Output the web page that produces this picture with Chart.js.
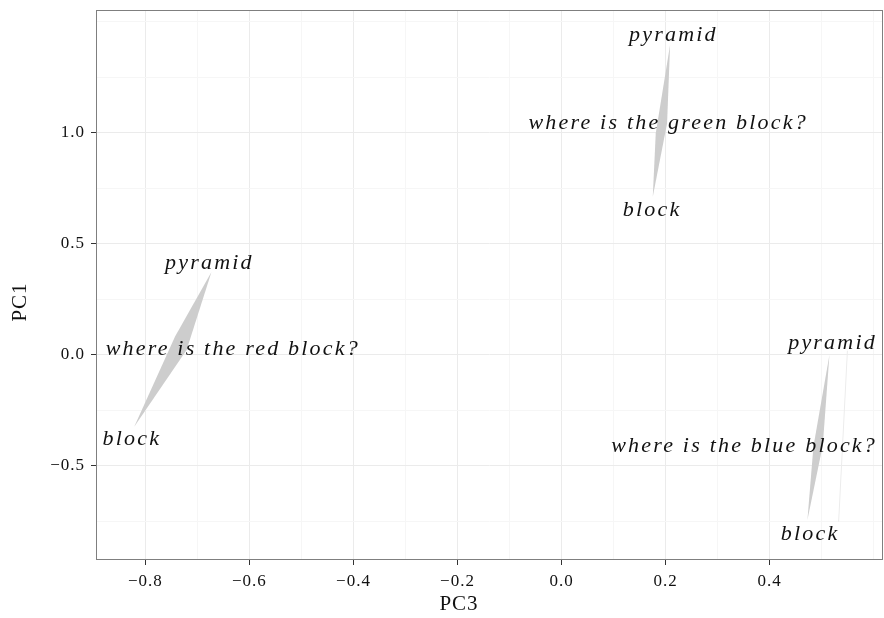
<!DOCTYPE html>
<html>
<head>
<meta charset="utf-8">
<script src="https://cdn.jsdelivr.net/npm/chart.js@4.4.1/dist/chart.umd.min.js"></script>
<style>
  html, body { margin: 0; padding: 0; background: #fff; }
  #wrap { width: 884px; height: 618px; position: relative; }
</style>
</head>
<body>
<div id="wrap"><canvas id="chart-pca"></canvas></div>
<script>
// one entry per colour: red, green, blue
const sentences = ['where is the red block?', 'where is the green block?', 'where is the blue block?'];
const sentenceX = [-0.632, 0.205, 0.351];
const sentenceY = [0.025, 1.040, -0.412];
const pyramidX = [-0.677, 0.215, 0.521];
const pyramidY = [0.411, 1.437, 0.053];
const blockX = [-0.826, 0.174, 0.478];
const blockY = [-0.379, 0.649, -0.808];

// grey slivers joining block and pyramid
const redShapeX = [-0.8215, -0.743, -0.673, -0.7208];
const redShapeY = [-0.325, 0.081, 0.372, 0.021];
const greenShapeX = [0.1754, 0.1811, 0.2087, 0.2029];
const greenShapeY = [0.711, 0.997, 1.395, 1.042];
const blueShapeX = [0.4727, 0.4842, 0.5150, 0.5023];
const blueShapeY = [-0.745, -0.415, -0.002, -0.407];
const blueTraceX = [0.5496, 0.5327];
const blueTraceY = [0.0176, -0.7527];

// axis breaks
const xMajor = [-0.8, -0.6, -0.4, -0.2, 0.0, 0.2, 0.4];
const xMinor = [-0.7, -0.5, -0.3, -0.1, 0.1, 0.3, 0.5, 0.6];
const yMajor = [-0.5, 0.0, 0.5, 1.0];
const yMinor = [-0.75, -0.25, 0.25, 0.75, 1.25, 1.5];

function toPoints(xs, ys, close) {
  const pts = xs.map((v, i) => ({ x: v, y: ys[i] }));
  if (close) pts.push(pts[0]);
  return pts;
}

function buildTicks(major, minor) {
  const list = major.map(v => ({ value: v, minor: false }))
    .concat(minor.map(v => ({ value: v, minor: true })));
  return list.sort((a, b) => a.value - b.value);
}

function fmt(v) {
  return (v < 0 ? '\u2212' : '') + Math.abs(v).toFixed(1);
}

function axisOptions(min, max, major, minor, isX) {
  return {
    type: 'linear',
    min: min,
    max: max,
    afterBuildTicks: (scale) => { scale.ticks = buildTicks(major, minor); },
    afterFit: (scale) => {
      // fixed panel size, no extra room for edge labels
      if (isX) {
        scale.height = 58;
        scale.paddingLeft = 0;
        scale.paddingRight = 0;
      } else {
        scale.width = 96;
        scale.paddingTop = 0;
        scale.paddingBottom = 0;
      }
    },
    border: { display: false },
    grid: {
      color: (c) => (c.tick && c.tick.minor) ? '#f6f6f6' : '#ebebeb',
      tickColor: (c) => (c.tick && c.tick.minor) ? 'rgba(0,0,0,0)' : '#333333',
      tickLength: 5,
      lineWidth: 1
    },
    ticks: {
      autoSkip: false,
      maxRotation: 0,
      padding: isX ? 6 : 6,
      color: '#111111',
      font: { family: 'Liberation Serif', size: 17 },
      callback: (v, i, ticks) => ticks[i].minor ? '' : fmt(v)
    }
  };
}

const shapeStyle = {
  showLine: true,
  fill: 'shape',
  backgroundColor: '#cdcdcd',
  borderColor: 'rgba(0,0,0,0)',
  borderWidth: 0,
  pointRadius: 0,
  tension: 0
};

// words, sentences, panel border and axis titles
const textLayer = {
  id: 'textLayer',
  beforeDraw(chart) {
    chart.ctx.letterSpacing = '1px';
  },
  afterDatasetsDraw(chart) {
    const { ctx, chartArea } = chart;
    const x = chart.scales.x;
    const y = chart.scales.y;
    ctx.save();
    ctx.font = 'italic 22px "Liberation Serif"';
    ctx.letterSpacing = '2.2px';
    ctx.fillStyle = '#111111';
    ctx.textAlign = 'center';
    ctx.textBaseline = 'middle';
    for (let i = 0; i < sentences.length; i++) {
      ctx.fillText(sentences[i], x.getPixelForValue(sentenceX[i]), y.getPixelForValue(sentenceY[i]));
      ctx.fillText('pyramid', x.getPixelForValue(pyramidX[i]), y.getPixelForValue(pyramidY[i]));
      ctx.fillText('block', x.getPixelForValue(blockX[i]), y.getPixelForValue(blockY[i]));
    }
    ctx.restore();

    ctx.save();
    ctx.strokeStyle = '#7f7f7f';
    ctx.lineWidth = 1;
    ctx.strokeRect(Math.round(chartArea.left) + 0.5, Math.round(chartArea.top) + 0.5,
      Math.round(chartArea.right - chartArea.left) - 1, Math.round(chartArea.bottom - chartArea.top) - 1);

    ctx.font = '21px "Liberation Serif"';
    ctx.letterSpacing = '1px';
    ctx.fillStyle = '#111111';
    ctx.textAlign = 'center';
    ctx.textBaseline = 'middle';
    ctx.fillText('PC3', 459, 604);
    ctx.translate(20, 302);
    ctx.rotate(-Math.PI / 2);
    ctx.fillText('PC1', 0, 0);
    ctx.restore();
  }
};

var ctx = document.getElementById('chart-pca').getContext('2d');

new Chart(ctx, {
  type: 'scatter',
  data: {
    datasets: [
      Object.assign({ label: 'red', data: toPoints(redShapeX, redShapeY, true) }, shapeStyle),
      Object.assign({ label: 'green', data: toPoints(greenShapeX, greenShapeY, true) }, shapeStyle),
      Object.assign({ label: 'blue', data: toPoints(blueShapeX, blueShapeY, true) }, shapeStyle),
      {
        label: 'blue trace',
        data: toPoints(blueTraceX, blueTraceY, false),
        showLine: true,
        fill: false,
        borderColor: '#ececec',
        borderWidth: 1,
        pointRadius: 0
      }
    ]
  },
  options: {
    responsive: true,
    maintainAspectRatio: false,
    animation: false,
    layout: { padding: { top: 10, right: 1, left: 0, bottom: 0 } },
    plugins: {
      legend: { display: false },
      tooltip: { enabled: false }
    },
    scales: {
      x: axisOptions(-0.895, 0.618, xMajor, xMinor, true),
      y: axisOptions(-0.925, 1.552, yMajor, yMinor, false)
    }
  },
  plugins: [textLayer]
});
</script>
</body>
</html>
